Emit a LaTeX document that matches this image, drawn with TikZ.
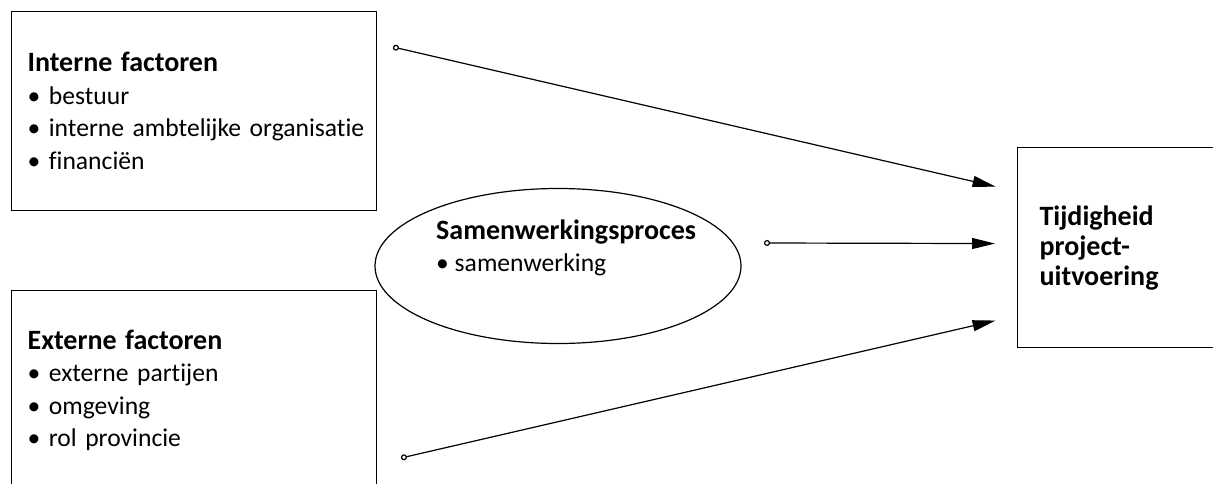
\documentclass[tikz,border=0pt]{standalone}
\usepackage{fontspec}
\setmainfont[Ligatures=NoCommon]{Carlito}
\usetikzlibrary{arrows.meta,positioning,shapes.geometric}

\newcommand{\kop}[1]{{\fontsize{28}{32.5}\selectfont\bfseries #1}}

\begin{document}
\begin{tikzpicture}[x=1pt,y=-1pt,
  > = {Triangle[length=23pt,width=11pt]},
  every node/.style = {font=\fontsize{25.6}{32.5}\selectfont},
  factor/.style = {draw, line width=1.2pt, anchor=north west, text width=333pt,
    inner xsep=16pt, inner ysep=0pt, minimum height=199pt, align=left},
  proces/.style = {draw, ellipse, line width=1.2pt, minimum width=366pt, minimum height=155pt},
  pijl/.style = {{Circle[open,length=6pt]}->, line width=1.2pt, shorten >=22pt}
  ]
  \useasboundingbox (0,0) rectangle (1213,484);
  \clip (0,0) rectangle (1213,484);

  % factoren
  \node[factor] (intern) at (11,11) {\kop{Interne factoren}\\
    • bestuur\\
    \mbox{• interne ambtelijke organisatie}\\
    • financiën};
  \node[factor] (extern) at (11,290) {\kop{Externe factoren}\\
    • externe partijen\\
    • omgeving\\
    • rol provincie};

  % samenwerking
  \node[proces] (proces) at (558,266) {};
  \node[anchor=west, inner sep=0pt, align=left] (procestekst) at (436,248)
    {\kop{Samenwerkingsproces}\\• samenwerking};

  % uitkomst
  \node[factor, text width=171pt, inner xsep=22pt, minimum height=200pt,
    font=\fontsize{28}{30}\selectfont\bfseries] (tijd) at (1017,147)
    {Tijdigheid\\project-\\uitvoering};

  \coordinate (start1) at (393,47);
  \coordinate (start2) at (764,243);
  \coordinate (start3) at (401,458);

  \draw[pijl] (start1) -- ([yshift=56pt]tijd.west);
  \draw[pijl] (start2) -- ([yshift=4pt]tijd.west);
  \draw[pijl] (start3) -- ([yshift=-68pt]tijd.west);
\end{tikzpicture}
\end{document}
